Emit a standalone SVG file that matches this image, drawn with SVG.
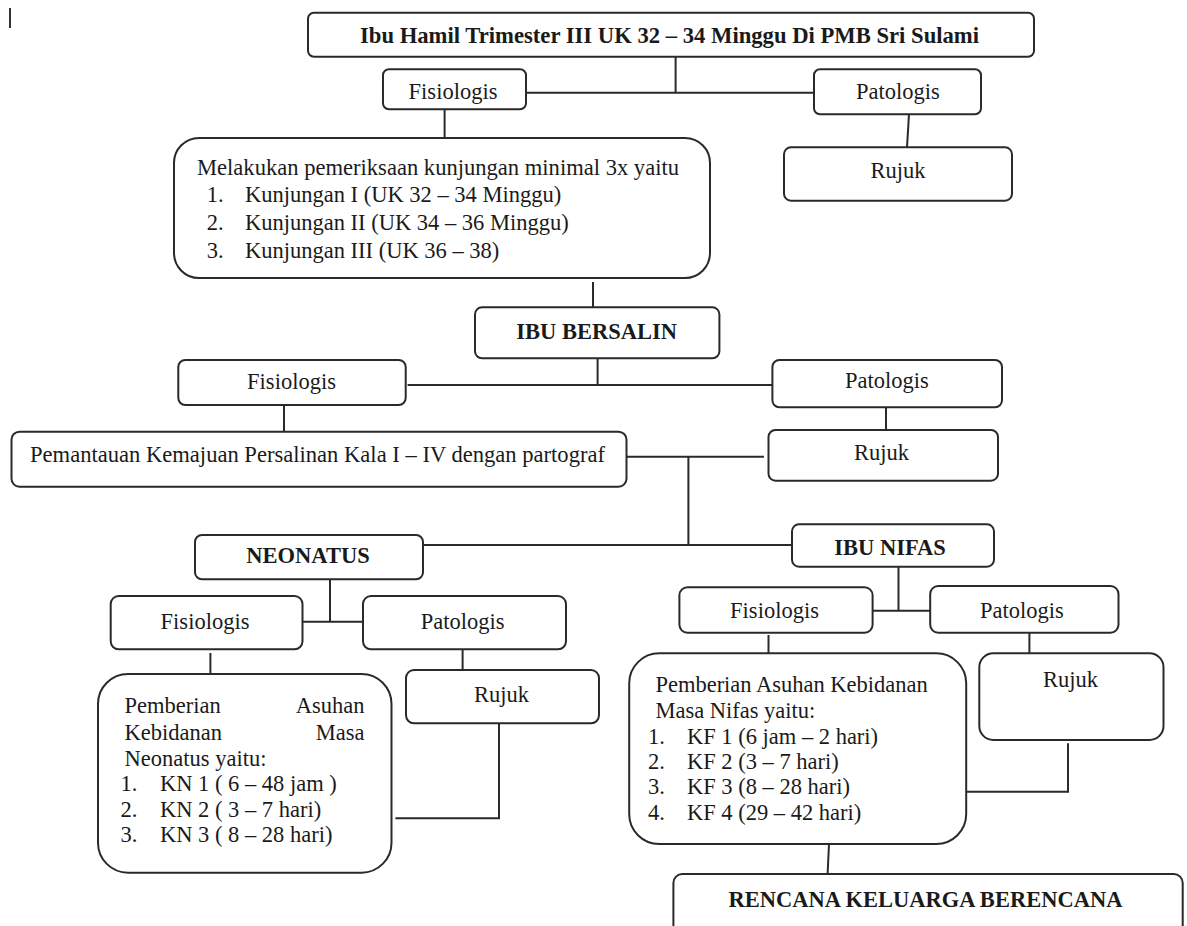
<svg xmlns="http://www.w3.org/2000/svg" width="1187" height="926" viewBox="0 0 1187 926">
<style>
.b{fill:#fff;stroke:#2a2a2a;stroke-width:2}
.c{fill:none;stroke:#2a2a2a;stroke-width:2}
text{font-family:"Liberation Serif","Times New Roman",serif;font-size:22.5px;fill:#1a1a1a}
.m{text-anchor:middle}
.e{text-anchor:end}
.bd{font-weight:bold}
</style>
<rect x="0" y="0" width="1187" height="926" fill="#fff"/>
<line x1="10" y1="8" x2="10" y2="28" stroke="#333" stroke-width="2"/>
<g id="connectors">
<path class="c" d="M675.6 56.7V92.7M526 92.7H814"/>
<path class="c" d="M909 114.3L907 147.3"/>
<path class="c" d="M444.6 109.3V138"/>
<path class="c" d="M593 282V307.3"/>
<path class="c" d="M597.6 358.3V385M407.6 385H772.4"/>
<path class="c" d="M284 405V431.7"/>
<path class="c" d="M886 407.3V430"/>
<path class="c" d="M626.5 456.7H764M688.4 456.7V545M423 545H791"/>
<path class="c" d="M898.5 566.7V610.7M872.6 610.7H930.2"/>
<path class="c" d="M330 579.3V621.7M302.5 621.7H363"/>
<path class="c" d="M210.4 653V674"/>
<path class="c" d="M462.6 649.3V670"/>
<path class="c" d="M395.4 818.3H499V723.3"/>
<path class="c" d="M768.5 635V653.3"/>
<path class="c" d="M1029.4 632.7V653.3"/>
<path class="c" d="M966.9 791.7H1068V743.3"/>
<path class="c" d="M829 844L827.6 874"/>
</g>
<g id="n-top">
<rect class="b" x="308" y="12.7" width="726" height="44" rx="6"/>
<text class="bd" x="360" y="43.3" textLength="619" lengthAdjust="spacingAndGlyphs">Ibu Hamil Trimester III UK 32 – 34 Minggu Di PMB Sri Sulami</text>
</g>
<g id="n-fis1">
<rect class="b" x="383" y="69.3" width="143" height="40" rx="6"/>
<text class="m" x="453" y="99">Fisiologis</text>
</g>
<g id="n-pat1">
<rect class="b" x="814" y="69.3" width="167" height="45" rx="6"/>
<text class="m" x="898" y="99">Patologis</text>
</g>
<g id="n-rujuk1">
<rect class="b" x="784" y="147.3" width="228" height="53.4" rx="7"/>
<text class="m" x="898" y="178">Rujuk</text>
</g>
<g id="n-kunjungan">
<rect class="b" x="174" y="138" width="536" height="140" rx="25"/>
<text x="197" y="175" textLength="482" lengthAdjust="spacingAndGlyphs">Melakukan pemeriksaan kunjungan minimal 3x yaitu</text>
<text x="206.7" y="202">1.</text><text x="245" y="202">Kunjungan I (UK 32 – 34 Minggu)</text>
<text x="206.7" y="230">2.</text><text x="245" y="230">Kunjungan II (UK 34 – 36 Minggu)</text>
<text x="206.7" y="258">3.</text><text x="245" y="258">Kunjungan III (UK 36 – 38)</text>
</g>
<g id="n-bersalin">
<rect class="b" x="475" y="307.3" width="244.4" height="51" rx="7"/>
<text class="m bd" x="596.7" y="339">IBU BERSALIN</text>
</g>
<g id="n-fis2">
<rect class="b" x="178.3" y="360" width="227.4" height="45" rx="7"/>
<text class="m" x="291.5" y="389">Fisiologis</text>
</g>
<g id="n-pat2">
<rect class="b" x="772.4" y="360" width="229.6" height="47.3" rx="7"/>
<text class="m" x="887" y="388">Patologis</text>
</g>
<g id="n-pemantauan">
<rect class="b" x="11.5" y="431.7" width="615" height="55" rx="8"/>
<text x="30" y="461.5" textLength="575" lengthAdjust="spacingAndGlyphs">Pemantauan Kemajuan Persalinan Kala I – IV dengan partograf</text>
</g>
<g id="n-rujuk2">
<rect class="b" x="768.5" y="430" width="229.5" height="50.7" rx="7"/>
<text class="m" x="881.5" y="460">Rujuk</text>
</g>
<g id="n-neonatus">
<rect class="b" x="195" y="535" width="228" height="44.3" rx="7"/>
<text class="m bd" x="308" y="563">NEONATUS</text>
</g>
<g id="n-nifas">
<rect class="b" x="792" y="524.3" width="202" height="42.4" rx="7"/>
<text class="m bd" x="890" y="555">IBU NIFAS</text>
</g>
<g id="n-fis3">
<rect class="b" x="110.7" y="596" width="191.8" height="53.3" rx="8"/>
<text class="m" x="205" y="629">Fisiologis</text>
</g>
<g id="n-pat3">
<rect class="b" x="363" y="596" width="203" height="53.3" rx="8"/>
<text class="m" x="462.6" y="629">Patologis</text>
</g>
<g id="n-asuhan-neo">
<rect class="b" x="98" y="674" width="293.5" height="198.7" rx="30"/>
<text x="124.6" y="712.7">Pemberian</text><text class="e" x="364.6" y="712.7">Asuhan</text>
<text x="124.6" y="740">Kebidanan</text><text class="e" x="364.6" y="740">Masa</text>
<text x="124.6" y="765.5">Neonatus yaitu:</text>
<text x="120.6" y="791">1.</text><text x="160" y="791">KN 1 ( 6 – 48 jam )</text>
<text x="120.6" y="816.5">2.</text><text x="160" y="816.5">KN 2 ( 3 – 7 hari)</text>
<text x="120.6" y="842">3.</text><text x="160" y="842">KN 3 ( 8 – 28 hari)</text>
</g>
<g id="n-rujuk3">
<rect class="b" x="406" y="670" width="193" height="53.3" rx="8"/>
<text class="m" x="501.5" y="701.7">Rujuk</text>
</g>
<g id="n-fis4">
<rect class="b" x="679.4" y="587.3" width="193.2" height="45.4" rx="8"/>
<text class="m" x="774.5" y="618">Fisiologis</text>
</g>
<g id="n-pat4">
<rect class="b" x="930.2" y="586" width="188.3" height="46.7" rx="8"/>
<text class="m" x="1022" y="618">Patologis</text>
</g>
<g id="n-asuhan-nifas">
<rect class="b" x="629.2" y="653.3" width="337" height="190.7" rx="30"/>
<text x="655.4" y="691.7">Pemberian Asuhan Kebidanan</text>
<text x="655.4" y="718.3">Masa Nifas yaitu:</text>
<text x="648" y="744">1.</text><text x="686.9" y="744">KF 1 (6 jam – 2 hari)</text>
<text x="648" y="769">2.</text><text x="686.9" y="769">KF 2 (3 – 7 hari)</text>
<text x="648" y="794">3.</text><text x="686.9" y="794">KF 3 (8 – 28 hari)</text>
<text x="648" y="819.5">4.</text><text x="686.9" y="819.5">KF 4 (29 – 42 hari)</text>
</g>
<g id="n-rujuk4">
<rect class="b" x="979.3" y="653.3" width="184.2" height="86.7" rx="14"/>
<text class="m" x="1070.5" y="686.7">Rujuk</text>
</g>
<g id="n-kb">
<rect class="b" x="673.4" y="874" width="509.3" height="70" rx="9"/>
<text class="m bd" x="925.5" y="907">RENCANA KELUARGA BERENCANA</text>
</g>
</svg>
